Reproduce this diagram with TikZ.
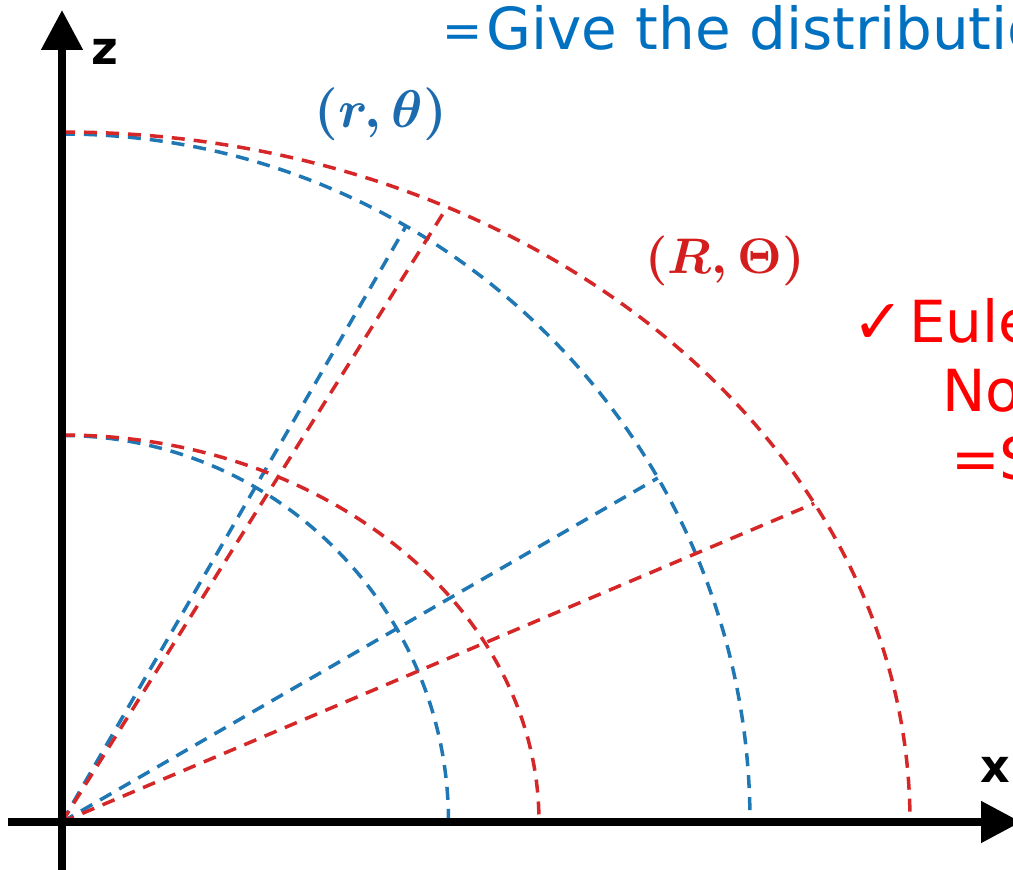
\documentclass[tikz,border=0pt]{standalone}
\usepackage{graphicx}
\usepackage{fontspec}
\setmainfont{DejaVu Sans}
\usetikzlibrary{arrows.meta,calc}
\definecolor{tbl}{HTML}{1F77B4}
\definecolor{trd}{HTML}{D62728}
\definecolor{txtblue}{HTML}{0070C0}
\definecolor{txtred}{HTML}{FF0000}
\definecolor{lblblue}{HTML}{1B6BAE}
\definecolor{lblred}{HTML}{D41E1E}
\newcommand{\bigmathlabel}[2]{\scalebox{#1}{\fontsize{10}{12}\selectfont\boldmath$#2$}}
\begin{document}
\begin{tikzpicture}[x=1pt,y=1pt,
  axisline/.style={line width=8pt, -{Triangle[length=40pt,width=40pt]}},
  bdash/.style={tbl, line width=3.5pt, dash pattern=on 13pt off 9pt},
  rdash/.style={trd, line width=3.5pt, dash pattern=on 13pt off 9pt},
  bigtext/.style={font=\fontsize{58}{60}\selectfont, inner sep=0pt, anchor=base west},
  axlabel/.style={font=\fontsize{46}{48}\selectfont\bfseries, inner sep=0pt, anchor=base west},
  coordlabel/.style={inner sep=0pt}]
\useasboundingbox (0,0) rectangle (1013,870);
\fill[white] (0,0) rectangle (1013,870);
\coordinate (O) at (62,48);
% axes
\coordinate (xs) at (8,48);
\coordinate (xe) at (1021,48);
\coordinate (zs) at (62,-5);
\coordinate (ze) at (62,860);
% arc starts
\coordinate (b1) at ($(O)+(0,386.5)$);
\coordinate (b2) at ($(O)+(0,688)$);
\coordinate (r1) at ($(O)+(0,387)$);
\coordinate (r2) at ($(O)+(0,690)$);
% radial end points
\coordinate (b60) at ($(O)+(60:688)$);
\coordinate (b30) at ($(O)+(30:688)$);
\coordinate (r63) at ($(O)+(385,614.8)$);
\coordinate (r27) at ($(O)+(752.2,318.6)$);
% blue grid
\draw[bdash] (b1) arc[start angle=90, end angle=0, radius=386.5];
\draw[bdash] (b2) arc[start angle=90, end angle=0, radius=688];
\draw[bdash] (O) -- (b60);
\draw[bdash] (O) -- (b30);
% red grid
\draw[rdash] (r1) arc[start angle=90, end angle=0, x radius=477, y radius=387];
\draw[rdash] (r2) arc[start angle=90, end angle=0, x radius=848, y radius=690];
\draw[rdash] (O) -- (r63);
\draw[rdash] (O) -- (r27);
% axes on top
\draw[axisline] (xs) -- (xe);
\draw[axisline] (zs) -- (ze);
% labels
\node[axlabel] (zl) at (91,805) {z};
\node[axlabel] (xl) at (980,87) {x};
\node[coordlabel, text=lblblue] (rt) at (381,756) {\bigmathlabel{5.3}{(r,\theta)}};
\node[coordlabel, text=lblred] (RT) at (725,609) {\bigmathlabel{5.0}{(R,\Theta)}};
\node[bigtext, text=txtblue] (give) at (442,820) {{\fontsize{48}{48}\selectfont\raisebox{2pt}{=}}\hspace{4pt}Give the distributio};
\node[bigtext, text=txtred] (eu) at (852,527) {\makebox[57pt][l]{\fontsize{62}{62}\selectfont\raisebox{-1pt}{✓}}Eule};
\node[bigtext, text=txtred] (no) at (942,458) {No};
\node[bigtext, text=txtred] (eqs) at (951,390) {=S};
\end{tikzpicture}
\end{document}
